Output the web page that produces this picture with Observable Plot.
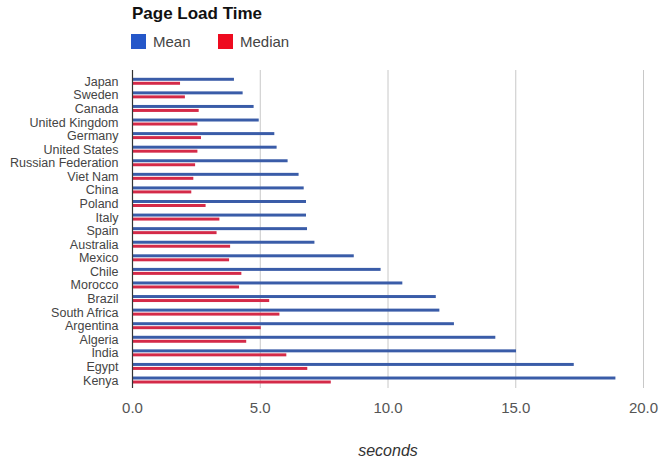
<!DOCTYPE html>
<html>
<head>
<meta charset="utf-8">
<script src="https://cdn.jsdelivr.net/npm/d3@7"></script>
<script src="https://cdn.jsdelivr.net/npm/@observablehq/plot@0.6"></script>
<style>
  html, body { margin: 0; padding: 0; background: #fff; }
  body { width: 664px; height: 461px; position: relative; overflow: hidden; font-family: "Liberation Sans", Arial, sans-serif; }
  #title { position: absolute; left: 132px; top: 4px; font-size: 17px; font-weight: bold; color: #111; }
  .leg { position: absolute; top: 33px; font-size: 15px; color: #444; display: flex; align-items: center; }
  .sw { width: 15px; height: 15px; margin-right: 7px; }
  #chart { position: absolute; left: 0; top: 60px; }
</style>
</head>
<body>
<div id="title">Page Load Time</div>
<div class="leg" style="left:131px"><div class="sw" style="background:#2557c9"></div>Mean</div>
<div class="leg" style="left:218px"><div class="sw" style="background:#ee0b1f"></div>Median</div>
<div id="chart"></div>
<script>
const countries = ["Japan","Sweden","Canada","United Kingdom","Germany","United States","Russian Federation","Viet Nam","China","Poland","Italy","Spain","Australia","Mexico","Chile","Morocco","Brazil","South Africa","Argentina","Algeria","India","Egypt","Kenya"];
const meanValues = [3.99,4.33,4.76,4.96,5.57,5.66,6.09,6.52,6.72,6.81,6.81,6.85,7.14,8.68,9.73,10.58,11.89,12.03,12.60,14.22,15.03,17.29,18.92];
const medianValues = [1.88,2.07,2.61,2.56,2.70,2.56,2.47,2.40,2.32,2.88,3.42,3.31,3.84,3.80,4.28,4.19,5.37,5.77,5.04,4.47,6.04,6.86,7.78];
const xTicks = [0, 5, 10, 15, 20];
const gridTicks = [5, 10, 15, 20];

const data = countries.map((c, i) => ({country: c, mean: meanValues[i], median: medianValues[i]}));

const chart = Plot.plot({
  width: 664,
  height: 400,
  marginLeft: 132,
  marginRight: 21,
  marginTop: 10,
  marginBottom: 72,
  style: {fontFamily: "Liberation Sans, Arial, sans-serif", background: "#fff"},
  x: {domain: [0, 20], ticks: xTicks, tickFormat: d3.format(".1f")},
  y: {domain: countries, padding: 0, round: false, insetTop: 4.5, insetBottom: 1.2},
  marks: [
    Plot.ruleX(gridTicks, {stroke: "#c8c8c8", strokeWidth: 1}),
    Plot.barX(data, {y: "country", x1: 0, x2: "mean", fill: "#3a5ca8", insetTop: 3.3, insetBottom: 7.3}),
    Plot.barX(data, {y: "country", x1: 0, x2: "median", fill: "#d42a48", insetTop: 7.3, insetBottom: 3.3}),
    Plot.ruleX([0], {stroke: "#333", strokeWidth: 1.2}),
    Plot.axisY({tickSize: 0, tickPadding: 14, fontSize: 12.5, color: "#444", label: null}),
    Plot.axisX({ticks: xTicks, tickFormat: d3.format(".1f"), tickSize: 0, tickPadding: 14, fontSize: 15, color: "#555", label: null}),
    Plot.text(["seconds"], {frameAnchor: "bottom", dy: 67, text: d => d, fontSize: 16, fontStyle: "italic", fill: "#333"})
  ]
});
document.getElementById("chart").appendChild(chart);
</script>
</body>
</html>
